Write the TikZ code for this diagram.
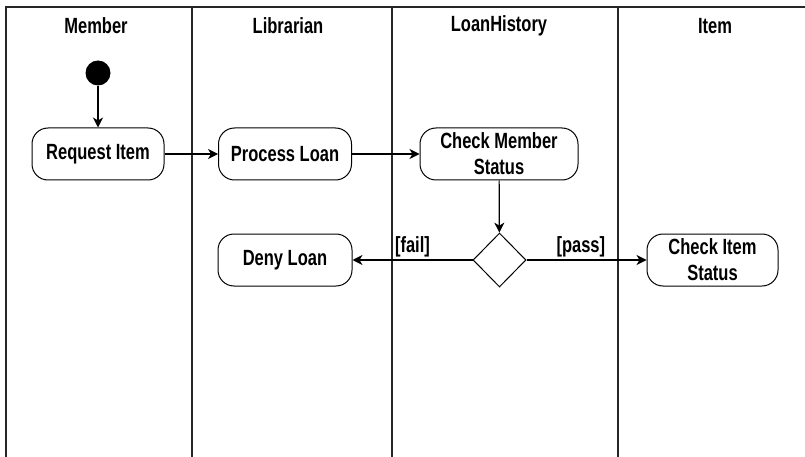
\documentclass[tikz,border=0pt]{standalone}
\usepackage{fontspec}
\setmainfont{Liberation Sans}[FakeStretch=0.75,UprightFont=* Bold]
\usetikzlibrary{shapes.geometric,arrows.meta}
\begin{document}
\begin{tikzpicture}[x=1pt,y=-1pt,
  lane/.style={line width=1.2pt, draw=black!85},
  txt/.style={font=\fontsize{22}{26}\selectfont, inner sep=0pt},
  act/.style={txt, draw, line width=1pt, rounded corners=16pt, minimum height=52pt, align=center},
  arr/.style={line width=1.2pt, -{Stealth[length=10pt,width=10pt,inset=3pt]}},
  guard/.style={txt, inner sep=0pt}
]
\useasboundingbox (0,0) rectangle (805,457);
% swimlanes
\draw[lane] (6,457) -- (6,7) -- (805,7);
\draw[lane] (192,7) -- (192,457);
\draw[lane] (392,7) -- (392,457);
\draw[lane] (618,7) -- (618,457);
% headers
\node[txt] (hm) at (96,26) {Member};
\node[txt] (hl) at (288,26) {Librarian};
\node[txt] (hh) at (499,26) {LoanHistory};
\node[txt] (hi) at (715,26) {Item};
% nodes
\node[circle, fill=black, minimum size=25pt, inner sep=0pt] (start) at (98,73) {};
\node[act, minimum width=132pt] (req) at (98,154) {Request Item};
\node[act, minimum width=133pt] (proc) at (285,154) {Process Loan};
\node[act, minimum width=158pt] (cms) at (499,154) {Check Member\\Status};
\node[diamond, draw, line width=1pt, minimum width=53pt, minimum height=54pt, inner sep=0pt] (dec) at (499.5,260) {};
\node[act, minimum width=134pt] (deny) at (285,260) {Deny Loan};
\node[act, minimum width=131pt] (cis) at (712.5,260) {Check Item\\Status};
% connectors
\draw[arr] (start) -- (req);
\draw[arr] (req) -- (proc);
\draw[arr] (proc) -- (cms);
\draw[arr] (cms) -- (dec);
\draw[arr] (dec) -- node[guard, pos=0.35, anchor=south east, yshift=2pt] (lf) {[fail]} (deny);
\draw[arr] (dec) -- node[guard, pos=0.66, anchor=south east, yshift=2pt] (lp) {[pass]} (cis);
\end{tikzpicture}
\end{document}
